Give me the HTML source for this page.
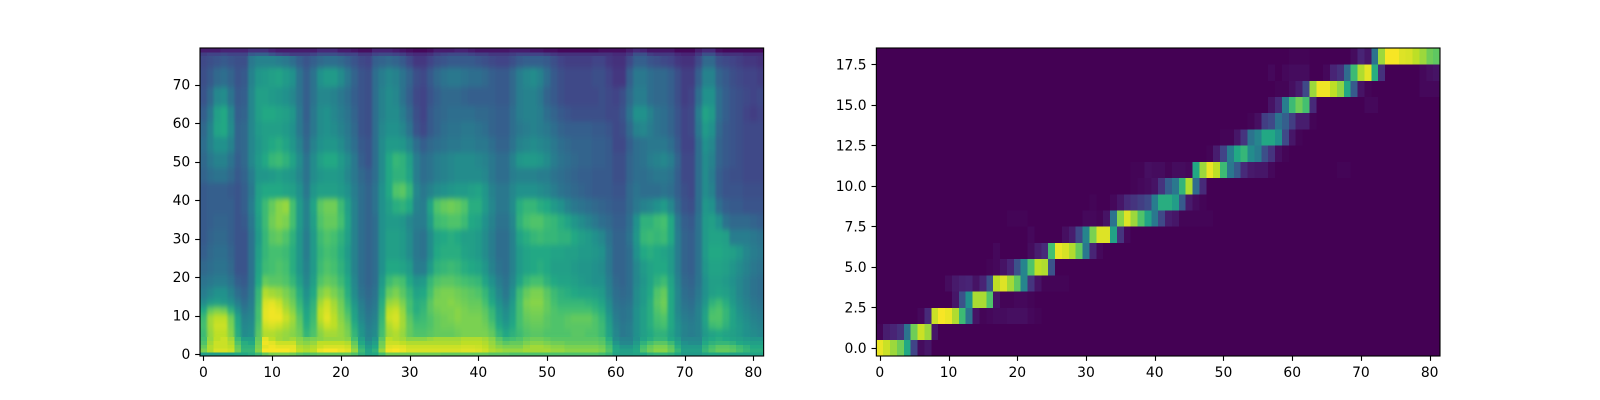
<!DOCTYPE html>
<html lang="en">
<head>
<meta charset="utf-8">
<title>Spectrogram and alignment heatmaps</title>
<style>
html,body{margin:0;padding:0;background:#fff;width:1600px;height:400px;overflow:hidden}
svg{display:block}
text{font-family:"DejaVu Sans","Liberation Sans",sans-serif;font-size:13.89px;fill:#000}
</style>
</head>
<body>
<svg id="figure" xmlns="http://www.w3.org/2000/svg" width="1600" height="400" viewBox="0 0 1600 400">
<defs>
<filter id="soften" filterUnits="userSpaceOnUse" x="170" y="20" width="620" height="360" color-interpolation-filters="sRGB">
<feGaussianBlur stdDeviation="1.4 2.6"/>
<feComponentTransfer><feFuncA type="table" tableValues="0 1 1 1 1"/></feComponentTransfer>
</filter>
<clipPath id="mel-clip"><rect x="200" y="48" width="563.64" height="308"/></clipPath>
</defs>
<rect x="0" y="0" width="1600" height="400" fill="#fff"/>
<g id="mel-axes">
<g clip-path="url(#mel-clip)">
<g id="mel-soft" filter="url(#soften)"></g>
<g id="mel-crisp"></g>
</g>
</g>
<g id="align-axes"></g>
</svg>
<script>
const melXTicks=[0,10,20,30,40,50,60,70,80];
const melYTicks=[0,10,20,30,40,50,60,70];
const alignXTicks=[0,10,20,30,40,50,60,70,80];
const alignYTicks=[0,2.5,5,7.5,10,12.5,15,17.5];
const alignYLabels=["0.0","2.5","5.0","7.5","10.0","12.5","15.0","17.5"];
const melColumnCount=82;
const melRowCount=80;
const alignColumnCount=82;
const alignRowCount=19;
const melBins=[0,1,2,3,4,5,7,9,11,13,15,18,21,25,29,33,37,41,45,49,53,57,61,65,70,75,78,79];
const melBands=[
[56,56,56,58,58,60,60,62,68,76,80,80,80,78,74,72,74,76,76,76,76,76,72,64,58,60,70,78,78,78,78,78,78,78,78,76,76,76,76,76,76,76,74,74,74,72,72,72,72,72,72,72,72,72,72,72,72,72,70,66,58,56,56,58,60,64,66,66,64,60,54,54,54,58,60,60,60,58,58,58,58,58],
[80,88,94,94,92,78,66,66,82,99,99,99,99,97,90,88,90,97,99,99,97,95,84,68,58,64,84,98,99,97,94,94,94,94,94,94,94,94,95,95,94,92,88,86,84,84,84,86,86,86,86,84,84,82,82,82,82,82,80,72,60,56,56,60,72,78,82,82,76,66,56,56,56,66,72,76,76,74,70,66,62,62],
[76,88,92,92,90,76,64,64,80,96,98,96,96,96,88,86,88,92,94,94,94,92,80,64,54,60,80,95,96,95,92,92,92,92,92,92,92,92,93,93,92,90,86,82,80,80,80,84,86,86,84,82,82,80,80,80,80,80,78,70,58,52,52,58,70,76,80,80,74,62,54,54,54,64,70,74,74,72,68,64,60,60],
[72,86,92,92,88,72,62,60,78,98,96,92,92,92,84,82,84,90,90,90,90,88,76,60,50,56,78,92,92,90,88,88,88,88,88,88,88,88,90,90,90,88,84,78,74,76,76,80,82,82,80,78,78,76,76,76,76,76,74,66,52,46,46,54,64,70,74,74,68,58,50,48,48,60,64,66,66,64,60,58,56,56],
[70,84,90,92,86,68,56,56,76,96,90,86,84,86,82,78,80,82,84,84,84,82,70,56,46,52,74,90,88,86,82,82,82,84,86,86,86,86,88,88,88,86,82,74,68,70,72,76,78,78,76,74,74,74,74,74,74,74,72,62,48,44,44,50,58,62,66,66,60,54,46,46,46,56,60,62,60,58,56,54,52,52],
[68,84,90,90,82,62,48,50,74,88,88,86,84,82,78,66,72,82,86,86,84,80,66,52,44,48,70,86,88,84,76,72,72,74,76,76,76,78,80,80,80,80,76,66,60,64,68,72,74,74,72,72,72,72,74,74,72,72,68,58,46,40,42,50,56,60,64,64,58,50,44,42,44,54,58,60,58,56,54,50,48,46],
[70,86,92,92,80,60,46,48,72,92,94,92,88,84,76,62,70,86,92,90,84,78,62,50,42,46,68,88,92,86,76,70,70,72,76,78,78,80,80,80,80,78,72,60,54,60,70,74,76,76,74,72,72,74,74,74,74,72,68,56,44,40,42,50,56,62,68,70,60,50,44,42,44,56,68,70,64,58,54,50,46,44],
[68,86,90,90,78,58,44,46,70,96,98,98,92,86,74,60,68,90,96,90,82,74,58,46,40,44,66,92,94,86,74,66,68,72,76,78,80,82,80,80,80,76,68,56,50,58,70,76,78,78,74,72,72,74,76,76,76,72,66,54,42,38,40,50,56,62,70,72,60,48,42,40,44,58,72,72,66,58,52,48,44,42],
[60,76,80,78,64,50,40,44,70,96,98,96,88,82,70,58,66,90,94,88,80,70,56,44,38,42,64,90,92,84,70,62,66,74,78,80,80,82,80,78,78,74,66,54,48,56,70,78,80,80,76,72,70,70,70,70,70,66,62,50,40,38,40,50,56,62,72,76,60,46,40,38,44,56,70,72,66,58,50,46,42,40],
[48,54,56,54,50,42,36,42,68,94,96,92,84,78,66,54,64,86,92,86,78,66,52,42,36,40,62,84,86,80,70,62,64,74,80,80,82,80,78,76,76,70,60,50,44,54,70,80,82,82,76,70,66,66,66,66,64,62,58,48,38,36,38,48,54,62,74,78,60,46,38,36,42,52,64,68,62,54,48,44,40,38],
[42,46,50,50,44,36,32,40,66,88,86,84,80,74,62,50,60,80,84,80,74,62,48,38,34,38,58,76,80,74,66,58,60,70,78,80,80,78,76,74,72,66,56,46,40,50,68,76,80,80,74,68,64,62,60,58,58,56,54,44,36,34,36,48,54,60,72,76,60,46,36,34,40,50,56,58,56,52,46,42,38,36],
[38,40,42,42,38,30,28,38,60,76,74,74,72,66,56,46,56,72,76,74,68,60,46,36,32,36,54,68,72,70,60,52,54,66,72,74,74,72,70,68,66,58,50,42,38,46,58,66,70,70,64,60,58,58,56,54,52,50,50,42,34,32,36,46,52,58,64,68,58,44,34,32,38,50,56,56,54,50,46,42,38,36],
[34,36,38,38,34,26,26,38,58,68,70,72,70,62,52,44,54,68,72,70,64,56,44,36,32,36,50,60,60,58,54,42,42,54,64,66,68,66,62,60,58,52,44,38,36,44,54,58,60,62,60,56,56,56,54,52,52,50,48,40,32,32,36,46,54,58,60,60,54,42,32,30,38,52,58,58,56,52,48,44,40,38],
[30,34,36,36,32,26,26,38,56,66,70,70,68,62,52,42,54,66,70,68,62,54,44,36,32,36,50,56,56,54,48,40,38,48,60,62,62,62,58,56,54,48,42,36,36,44,54,58,60,60,60,58,58,56,56,54,54,52,50,40,32,32,36,50,60,62,60,58,54,42,32,30,38,54,60,60,58,56,52,46,42,40],
[28,32,34,34,30,26,26,38,54,66,74,76,72,64,52,42,54,68,72,70,64,56,44,36,32,36,50,56,56,54,48,40,38,48,58,60,62,60,56,56,54,48,42,36,36,44,58,62,66,68,66,66,64,64,60,56,54,50,46,38,32,32,38,52,66,68,66,68,60,42,32,30,38,54,58,58,56,42,42,42,40,38],
[28,30,32,32,30,26,28,40,56,68,78,82,80,70,54,44,56,72,76,76,70,58,44,36,32,36,50,54,54,52,46,42,42,54,68,70,72,72,68,60,58,50,44,38,38,46,64,70,72,72,68,66,62,58,52,48,44,40,36,34,30,30,36,50,64,64,68,70,60,40,30,28,38,54,56,50,38,34,34,34,32,30],
[28,30,30,30,30,26,30,42,58,68,76,82,84,70,54,44,58,74,78,78,68,56,44,36,32,38,50,56,62,64,60,44,42,58,72,76,78,76,72,62,62,54,46,40,40,48,62,66,66,62,60,54,50,44,40,38,36,34,32,30,28,28,34,40,44,46,50,54,46,34,26,24,36,52,50,36,30,28,28,26,26,26],
[28,30,30,30,28,26,30,40,56,60,60,60,58,56,50,40,52,56,56,56,54,50,42,36,32,38,50,60,72,74,66,46,40,44,48,50,52,54,54,56,58,52,44,40,40,46,50,50,50,48,46,42,38,36,34,32,30,28,28,28,26,26,34,38,36,36,36,38,36,30,24,22,36,48,44,30,26,26,26,24,24,24],
[32,36,38,38,34,28,32,42,52,52,54,56,54,52,46,38,48,52,54,54,52,46,40,34,30,36,48,60,64,64,58,42,36,38,42,44,46,48,48,48,48,46,40,36,36,42,44,44,44,42,42,38,36,34,32,30,30,28,28,28,24,24,32,36,36,38,40,40,38,30,22,22,36,48,42,30,26,24,24,22,22,22],
[34,40,44,44,38,30,34,46,54,60,66,68,64,58,48,38,48,56,60,60,54,48,40,30,26,36,48,60,66,64,56,42,36,38,42,44,46,48,48,48,46,44,40,36,36,44,52,54,54,52,48,42,38,36,34,32,32,30,30,28,24,24,32,36,38,42,44,46,42,32,22,22,36,48,44,32,28,26,24,22,22,22],
[36,44,50,50,44,32,34,46,52,56,60,62,58,52,44,34,44,50,52,52,48,42,36,28,26,36,48,54,54,52,46,36,30,34,36,38,40,40,42,42,40,40,36,32,32,38,44,46,48,46,44,40,36,34,32,32,32,30,30,28,22,22,30,36,38,40,40,40,36,28,20,20,36,50,46,32,28,26,24,22,22,22],
[34,44,58,60,48,32,34,46,54,56,56,56,54,50,40,32,40,48,50,48,44,40,34,26,24,36,46,50,50,46,38,26,22,28,32,36,38,38,40,40,38,36,32,30,30,36,40,42,44,42,40,36,32,30,30,30,30,28,28,26,22,24,34,44,46,42,38,36,32,26,20,22,40,54,50,34,28,26,24,22,22,22],
[30,40,56,60,46,30,32,46,56,60,60,58,56,52,40,30,40,48,50,46,42,38,32,26,24,36,44,48,48,42,34,24,20,28,32,34,36,36,36,36,34,34,32,30,30,36,42,44,44,42,36,32,28,26,24,24,24,24,24,22,22,26,38,50,50,44,38,36,32,26,20,22,42,58,54,36,30,26,24,20,18,20],
[26,34,46,48,38,28,30,46,56,56,54,52,50,46,38,30,38,46,46,44,40,36,30,26,24,36,44,48,46,38,30,22,20,26,30,34,34,34,32,30,30,30,30,28,28,34,42,44,44,40,32,28,24,22,22,22,22,22,24,22,20,24,34,42,42,36,34,34,30,24,18,20,36,50,50,36,30,26,24,22,20,22],
[24,28,34,36,32,26,28,44,52,54,56,58,54,50,38,30,38,50,54,54,48,40,32,26,24,36,42,46,44,38,32,24,22,28,34,38,40,40,38,36,36,34,30,28,28,34,42,46,48,44,36,28,24,22,22,22,22,24,24,20,16,16,30,40,40,36,34,34,30,24,18,18,30,44,44,32,28,24,22,20,20,18],
[22,24,26,28,26,24,24,40,44,44,44,42,40,36,30,26,30,34,36,36,34,30,26,22,20,30,32,34,32,28,22,16,16,20,24,26,28,28,28,28,26,24,22,20,20,24,28,30,30,30,28,24,20,18,18,18,18,20,20,16,14,14,22,30,30,26,24,22,20,16,14,14,22,34,34,24,22,20,18,16,16,14],
[18,20,20,22,20,20,20,28,30,30,26,22,20,18,18,18,20,24,24,24,22,20,20,16,16,20,22,22,20,18,14,12,12,14,18,20,22,22,22,20,18,18,16,16,16,18,20,20,20,20,18,16,14,14,14,14,14,14,14,14,12,12,16,24,24,18,16,16,16,12,10,10,16,24,24,16,14,14,14,12,12,12],
[8,8,8,10,10,10,10,14,14,14,10,8,8,8,8,8,8,12,12,12,8,8,6,4,4,10,10,10,8,6,4,2,2,4,8,8,8,10,10,8,6,6,6,6,6,8,8,8,6,6,4,4,2,2,2,2,2,2,4,4,4,4,8,12,10,6,6,6,6,2,2,2,8,12,12,4,2,2,2,2,2,2]
];
const alignRows=[
[97,92,85,78,60,20,3,6,0,0,0,0,0,0,0,0,0,0,0,0,0,0,0,0,0,0,0,0,0,0,0,0,0,0,0,0,0,0,0,0,0,0,0,0,0,0,0,0,0,0,0,0,0,0,0,0,0,0,0,0,0,0,0,0,0,0,0,0,0,0,0,0,0,0,0,0,0,0,0,0,0,0],
[1,8,10,14,38,78,92,85,6,0,0,0,0,0,0,0,0,0,0,0,0,0,0,0,0,0,0,0,0,0,0,0,0,0,0,0,0,0,0,0,0,0,0,0,0,0,0,0,0,0,0,0,0,0,0,0,0,0,0,0,0,0,0,0,0,0,0,0,0,0,0,0,0,0,0,0,0,0,0,0,0,0],
[0,0,0,0,0,0,2,12,92,99,97,88,68,38,5,1,2,3,3,4,4,4,2,1,0,0,0,0,0,0,0,0,0,0,0,0,0,0,0,0,0,0,0,0,0,0,0,0,0,0,0,0,0,0,0,0,0,0,0,0,0,0,0,0,0,0,0,0,0,0,0,0,0,0,0,0,0,0,0,0,0,0],
[0,0,0,0,0,0,0,0,0,0,0,6,25,50,87,87,72,5,1,1,2,2,1,0,0,0,0,0,0,0,0,0,0,0,0,0,0,0,0,0,0,0,0,0,0,0,0,0,0,0,0,0,0,0,0,0,0,0,0,0,0,0,0,0,0,0,0,0,0,0,0,0,0,0,0,0,0,0,0,0,0,0],
[0,0,0,0,0,0,0,0,0,0,3,7,9,10,5,10,25,90,95,86,75,45,15,5,1,1,1,1,0,0,0,0,0,0,0,0,0,0,0,0,0,0,0,0,0,0,0,0,0,0,0,0,0,0,0,0,0,0,0,0,0,0,0,0,0,0,0,0,0,0,0,0,0,0,0,0,0,0,0,0,0,0],
[0,0,0,0,0,0,0,0,0,0,0,0,0,0,0,0,1,2,5,10,25,45,72,90,88,25,0,0,0,0,0,0,0,0,0,0,0,0,0,0,0,0,0,0,0,0,0,0,0,0,0,0,0,0,0,0,0,0,0,0,0,0,0,0,0,0,0,0,0,0,0,0,0,0,0,0,0,0,0,0,0,0],
[0,0,0,0,0,0,0,0,0,0,0,0,0,0,0,0,0,2,0,0,0,0,3,8,12,70,97,94,88,76,40,10,2,0,0,0,0,0,0,0,0,0,0,0,0,0,0,0,0,0,0,0,0,0,0,0,0,0,0,0,0,0,0,0,0,0,0,0,0,0,0,0,0,0,0,0,0,0,0,0,0,0],
[0,0,0,0,0,0,0,0,0,0,0,0,0,0,0,0,0,0,0,0,0,0,2,0,0,0,0,4,8,22,45,80,95,95,58,15,2,0,0,0,0,0,0,0,0,0,0,0,0,0,0,0,0,0,0,0,0,0,0,0,0,0,0,0,0,0,0,0,0,0,0,0,0,0,0,0,0,0,0,0,0,0],
[0,0,0,0,0,0,0,0,0,0,0,0,0,0,0,0,0,0,0,1,1,1,0,0,0,0,0,0,0,0,2,2,1,5,38,82,95,85,72,58,40,22,8,6,1,1,1,1,1,0,0,0,0,0,0,0,0,0,0,0,0,0,0,0,0,0,0,0,0,0,0,0,0,0,0,0,0,0,0,0,0,0],
[0,0,0,0,0,0,0,0,0,0,0,0,0,0,0,0,0,0,0,0,0,0,0,0,0,0,0,0,0,0,0,1,0,0,2,6,12,15,18,22,42,62,62,55,28,7,3,1,0,0,0,0,0,0,0,0,0,0,0,0,0,0,0,0,0,0,0,0,0,0,0,0,0,0,0,0,0,0,0,0,0,0],
[0,0,0,0,0,0,0,0,0,0,0,0,0,0,0,0,0,0,0,0,0,0,0,0,0,0,0,0,0,0,0,0,0,0,0,0,0,1,2,3,5,15,30,40,65,88,35,12,0,0,0,0,0,0,0,0,0,0,0,0,0,0,0,0,0,0,0,0,0,0,0,0,0,0,0,0,0,0,0,0,0,0],
[0,0,0,0,0,0,0,0,0,0,0,0,0,0,0,0,0,0,0,0,0,0,0,0,0,0,0,0,0,0,0,0,0,0,0,0,0,1,1,4,3,3,1,3,3,2,60,85,97,90,68,40,28,12,7,6,6,2,0,0,0,0,0,0,0,0,0,1,1,0,0,0,0,0,0,0,0,0,0,0,0,0],
[0,0,0,0,0,0,0,0,0,0,0,0,0,0,0,0,0,0,0,0,0,0,0,0,0,0,0,0,0,0,0,0,0,0,0,0,0,0,0,0,0,0,0,0,0,0,0,0,1,8,20,42,60,66,48,42,24,15,4,1,0,0,0,0,0,0,0,0,0,0,0,0,0,0,0,0,0,0,0,0,0,0],
[0,0,0,0,0,0,0,0,0,0,0,0,0,0,0,0,0,0,0,0,0,0,0,0,0,0,0,0,0,0,0,0,0,0,0,0,0,0,0,0,0,0,0,0,0,0,0,0,0,0,1,1,6,15,38,45,60,60,50,22,6,1,0,0,0,0,0,0,0,0,0,0,0,0,0,0,0,0,0,0,0,0],
[0,0,0,0,0,0,0,0,0,0,0,0,0,0,0,0,0,0,0,0,0,0,0,0,0,0,0,0,0,0,0,0,0,0,0,0,0,0,0,0,0,0,0,0,0,0,0,0,0,0,0,0,0,0,1,4,18,22,38,30,18,8,8,1,0,0,0,0,0,0,0,0,0,0,0,0,0,0,0,0,0,0],
[0,0,0,0,0,0,0,0,0,0,0,0,0,0,0,0,0,0,0,0,0,0,0,0,0,0,0,0,0,0,0,0,0,0,0,0,0,0,0,0,0,0,0,0,0,0,0,0,0,0,0,0,0,0,0,0,0,5,12,42,68,78,70,12,0,0,0,0,0,0,0,2,2,0,0,0,0,0,0,0,0,0],
[0,0,0,0,0,0,0,0,0,0,0,0,0,0,0,0,0,0,0,0,0,0,0,0,0,0,0,0,0,0,0,0,0,0,0,0,0,0,0,0,0,0,0,0,0,0,0,0,0,0,0,0,0,0,0,0,0,0,1,1,4,8,22,85,98,98,90,83,60,28,5,1,0,0,0,0,0,0,0,2,2,2],
[0,0,0,0,0,0,0,0,0,0,0,0,0,0,0,0,0,0,0,0,0,0,0,0,0,0,0,0,0,0,0,0,0,0,0,0,0,0,0,0,0,0,0,0,0,0,0,0,0,0,0,0,0,0,0,0,0,2,0,2,3,3,3,0,0,2,10,14,35,68,88,96,62,14,0,0,0,0,0,2,4,5],
[0,0,0,0,0,0,0,0,0,0,0,0,0,0,0,0,0,0,0,0,0,0,0,0,0,0,0,0,0,0,0,0,0,0,0,0,0,0,0,0,0,0,0,0,0,0,0,0,0,0,0,0,0,0,0,0,0,0,0,0,1,1,1,0,0,0,0,0,0,3,10,6,38,85,99,99,95,94,90,85,78,75]
];
const viridisStops=["#440154","#482475","#414487","#355f8d","#2a788e","#21918c","#22a884","#44bf70","#7ad151","#bddf26","#fde725"];
const SVGNS="http://www.w3.org/2000/svg";
const PLOT_TOP=48,PLOT_BOTTOM=356,PLOT_W=563.64;
function hexToRgb(h){return [parseInt(h.slice(1,3),16),parseInt(h.slice(3,5),16),parseInt(h.slice(5,7),16)];}
function viridis(v){
  const t=Math.max(0,Math.min(1,v/100))*(viridisStops.length-1);
  const i=Math.min(viridisStops.length-2,Math.floor(t));
  const a=hexToRgb(viridisStops[i]),b=hexToRgb(viridisStops[i+1]),f=t-i;
  return "rgb("+[0,1,2].map(k=>Math.round(a[k]+(b[k]-a[k])*f)).join(",")+")";
}
function svgEl(tag,attrs,parent){
  const el=document.createElementNS(SVGNS,tag);
  for(const k in attrs)el.setAttribute(k,attrs[k]);
  parent.appendChild(el);
  return el;
}
function makeAxis(left,cols,rows){
  return {
    x:v=>left+(v+0.5)*PLOT_W/cols,
    y:v=>PLOT_BOTTOM-(v+0.5)*(PLOT_BOTTOM-PLOT_TOP)/rows,
    left:left
  };
}
function drawDecor(g,ax,xTicks,yTicks,yLabels,prefix){
  xTicks.forEach(function(t){
    const px=Math.round(ax.x(t))+0.5;
    const line=svgEl("line",{x1:px,x2:px,y1:PLOT_BOTTOM,y2:PLOT_BOTTOM+4.86,stroke:"#000","stroke-width":1.11},g);
    
    
    const label=svgEl("text",{x:ax.x(t),y:377,"text-anchor":"middle"},g);
    
    
    label.textContent=String(t);
  });
  yTicks.forEach(function(t,i){
    const py=Math.round(ax.y(t))+0.5;
    const line=svgEl("line",{x1:ax.left-4.86,x2:ax.left,y1:py,y2:py,stroke:"#000","stroke-width":1.11},g);
    
    
    const label=svgEl("text",{x:ax.left-9.72,y:ax.y(t)+5.05,"text-anchor":"end"},g);
    
    
    label.textContent=yLabels?yLabels[i]:String(t);
  });
  const frame=svgEl("rect",{x:ax.left,y:PLOT_TOP,width:PLOT_W,height:PLOT_BOTTOM-PLOT_TOP,fill:"none",stroke:"#000","stroke-width":1.11},g);
  
  
}
/* mel spectrogram */
const melG=document.getElementById("mel-axes");
const melSoft=document.getElementById("mel-soft");
const melCrisp=document.getElementById("mel-crisp");
const melAx=makeAxis(200,melColumnCount,melRowCount);
melBands.forEach(function(band,b){
  const startBin=melBins[b];
  const endBin=b+1<melBins.length?melBins[b+1]:melRowCount;
  const target=(startBin<5||startBin>=78)?melCrisp:melSoft;
  band.forEach(function(val,c){
    const x0=melAx.x(c-0.5),x1=melAx.x(c+0.5),y0=melAx.y(endBin-0.5),y1=melAx.y(startBin-0.5);
    const cell=svgEl("rect",{x:x0,y:y0,width:x1-x0+0.4,height:y1-y0+0.4,fill:viridis(val),"shape-rendering":"crispEdges"},target);
    
    
  });
});
drawDecor(melG,melAx,melXTicks,melYTicks,null,"mel");
/* alignment */
const alignG=document.getElementById("align-axes");
const alignAx=makeAxis(876.36,alignColumnCount,alignRowCount);
alignRows.forEach(function(row,r){
  row.forEach(function(val,c){
    const x0=alignAx.x(c-0.5),x1=alignAx.x(c+0.5),y0=alignAx.y(r+0.5),y1=alignAx.y(r-0.5);
    const cell=svgEl("rect",{x:x0,y:y0,width:x1-x0+0.4,height:y1-y0+0.4,fill:viridis(val),"shape-rendering":"crispEdges"},alignG);
    
    
  });
});
drawDecor(alignG,alignAx,alignXTicks,alignYTicks,alignYLabels,"alignment");
</script>
</body>
</html>
